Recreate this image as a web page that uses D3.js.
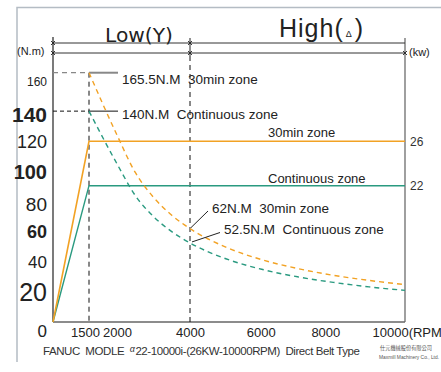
<!DOCTYPE html>
<html>
<head>
<meta charset="utf-8">
<script src="https://cdn.jsdelivr.net/npm/d3@7"></script>
<style>
  body { margin: 0; background: #fff; }
  svg { display: block; font-family: "Liberation Sans", Arial, sans-serif; }
  text { white-space: pre; }
</style>
</head>
<body>
<div id="chart"></div>
<script>
// axis ticks
const rpmTicks = [1500, 2000, 4000, 6000, 8000, 10000];
const torqueTicks = [0, 20, 40, 60, 80, 100, 120, 140, 160];
const powerTicks = [22, 26];

// power output (kW) – solid lines
const powerRpm = [0, 1500, 10000];
const power30 = [0, 26, 26];
const powerCont = [0, 22, 22];

// torque (N.m) – dashed curves
const torqueRpm = [1500, 2000, 2500, 3000, 3500, 4000, 5000, 6000, 7000, 8000, 9000, 10000];
const torque30 = [165.5, 124.1, 99.3, 82.8, 70.9, 62, 49.7, 41.4, 35.5, 31.0, 27.6, 24.8];
const torqueCont = [140, 105, 84, 70, 60, 52.5, 42, 35, 30, 26.3, 23.3, 21];

const W = 441, H = 372;
const pLeft = 53, pRight = 405, pBottom = 322;
const orange = "#f2a224", green = "#2a9a80";

const svg = d3.select("#chart").append("svg")
  .attr("width", W).attr("height", H);

// outer frame
svg.append("path")
  .attr("d", `M17,362 V7.5 H441`)
  .attr("fill", "none").attr("stroke", "#b4bcc4").attr("stroke-width", 1.5);

// the original chart is not drawn to a uniform rpm scale
const x = d3.scaleLinear()
  .domain([0, 1500, 2000, 4000, 10000])
  .range([pLeft, 89, 117, 190, pRight]);
const y = d3.scaleLinear().domain([0, 160]).range([pBottom, 81]);
const kw = d3.scaleLinear().domain([0, 22, 26]).range([pBottom, y(90.5), y(120)]);

// frame lines
svg.append("line").attr("x1", pLeft).attr("x2", pLeft).attr("y1", 37).attr("y2", pBottom)
  .attr("stroke", "#222").attr("stroke-width", 1.2);
svg.append("line").attr("x1", pRight).attr("x2", pRight).attr("y1", 38).attr("y2", pBottom)
  .attr("stroke", "#888").attr("stroke-width", 1.6);
svg.append("line").attr("x1", pLeft).attr("x2", pRight).attr("y1", pBottom).attr("y2", pBottom)
  .attr("stroke", "#666").attr("stroke-width", 1.4);

// header arrows
[43, 53].forEach(hy => {
  svg.append("line").attr("x1", pLeft).attr("x2", pRight).attr("y1", hy).attr("y2", hy)
    .attr("stroke", "#333").attr("stroke-width", 1);
});
const marks = [[0, 43], [0, 53], [4000, 43], [4000, 53], [10000, 53]];
marks.forEach(([r, hy]) => {
  const cx = x(r);
  svg.append("path")
    .attr("d", `M${cx - 2},${hy - 2}L${cx + 2},${hy + 2}M${cx + 2},${hy - 2}L${cx - 2},${hy + 2}`)
    .attr("stroke", "#222").attr("stroke-width", 0.9);
});
svg.append("line").attr("x1", x(4000)).attr("x2", x(4000)).attr("y1", 38).attr("y2", 56)
  .attr("stroke", "#222").attr("stroke-width", 1);

// dashed guides
svg.append("line").attr("x1", x(4000)).attr("x2", x(4000)).attr("y1", 56).attr("y2", pBottom)
  .attr("stroke", "#111").attr("stroke-dasharray", "5,4");
svg.append("line").attr("x1", x(1500)).attr("x2", x(1500)).attr("y1", y(torque30[0])).attr("y2", pBottom)
  .attr("stroke", "#111").attr("stroke-dasharray", "5,4");
svg.append("line").attr("x1", pLeft).attr("x2", x(1500)).attr("y1", y(torque30[0])).attr("y2", y(torque30[0]))
  .attr("stroke", "#888").attr("stroke-dasharray", "5,4").attr("stroke-width", 1.2);
svg.append("line").attr("x1", pLeft).attr("x2", x(1500)).attr("y1", y(torqueCont[0])).attr("y2", y(torqueCont[0]))
  .attr("stroke", "#111").attr("stroke-dasharray", "4,3");
svg.append("line").attr("x1", x(1500)).attr("x2", 118).attr("y1", y(torque30[0])).attr("y2", y(torque30[0]))
  .attr("stroke", "#888").attr("stroke-width", 2);
svg.append("line").attr("x1", x(1500)).attr("x2", 118).attr("y1", y(torqueCont[0])).attr("y2", y(torqueCont[0]))
  .attr("stroke", "#111").attr("stroke-width", 1);

// power lines
const powerLine = vals => d3.line()
  .x((d, i) => x(powerRpm[i])).y(d => kw(d))(vals);
svg.append("path").attr("d", powerLine(powerCont))
  .attr("fill", "none").attr("stroke", green).attr("stroke-width", 1.4);
svg.append("path").attr("d", powerLine(power30))
  .attr("fill", "none").attr("stroke", orange).attr("stroke-width", 1.6);

// torque curves
const torqueLine = vals => d3.line().curve(d3.curveMonotoneX)
  .x((d, i) => x(torqueRpm[i])).y(d => y(d))(vals);
svg.append("path").attr("d", torqueLine(torque30))
  .attr("fill", "none").attr("stroke", orange).attr("stroke-width", 1.4).attr("stroke-dasharray", "5,4");
svg.append("path").attr("d", torqueLine(torqueCont))
  .attr("fill", "none").attr("stroke", green).attr("stroke-width", 1.4).attr("stroke-dasharray", "5,4");

// left axis labels (mixed sizes as in the original print)
const yTickStyle = {
  0: [17, 400, 9], 20: [25, 400, 0], 40: [17, 400, 0], 60: [18, 700, 0], 80: [19, 400, 3],
  100: [20, 700, 0], 120: [18, 400, 0], 140: [21, 700, 3], 160: [12, 400, 0]
};
const gy = svg.append("g").attr("transform", `translate(${pLeft},0)`)
  .call(d3.axisLeft(y).tickValues(torqueTicks).tickSize(0).tickPadding(6));
gy.select(".domain").remove();
gy.selectAll("text")
  .attr("fill", "#222")
  .attr("font-family", "'Liberation Sans', Arial, sans-serif")
  .style("font-size", d => yTickStyle[d][0] + "px")
  .style("font-weight", d => yTickStyle[d][1])
  .attr("dy", d => (0.34 + yTickStyle[d][2] / yTickStyle[d][0]) + "em");

// right axis (kW)
const gk = svg.append("g").attr("transform", `translate(${pRight},0)`)
  .call(d3.axisRight(kw).tickValues(powerTicks).tickSize(0).tickPadding(5));
gk.select(".domain").remove();
gk.selectAll("text").attr("fill", "#333").attr("font-family", "'Liberation Sans', Arial, sans-serif")
  .style("font-size", "12px");

// bottom axis
const xTickDx = { 1500: -4, 2000: 0, 4000: 0, 6000: -1, 8000: -8, 10000: -33 };
const gx = svg.append("g").attr("transform", `translate(0,${pBottom})`)
  .call(d3.axisBottom(x).tickValues(rpmTicks).tickSize(0).tickPadding(6)
    .tickFormat(d => d === 10000 ? "10000(RPM" : d));
gx.select(".domain").remove();
gx.selectAll("text").attr("fill", "#222").attr("font-family", "'Liberation Sans', Arial, sans-serif")
  .style("font-size", "13px")
  .attr("text-anchor", d => d === 10000 ? "start" : "middle")
  .attr("dx", d => xTickDx[d]);

// units & header titles
const txt = (tx, ty, s, size, opts = {}) => svg.append("text")
  .attr("x", tx).attr("y", ty).text(s)
  .attr("font-size", size).attr("fill", opts.fill || "#222")
  .attr("text-anchor", opts.anchor || "start");
txt(17, 55, "(N.m)", 11);
txt(409, 56, "(kw)", 11);
txt(105, 41.5, "Low(Y)", 19).attr("font-family", "'DejaVu Sans', sans-serif")
  .attr("textLength", 68).attr("lengthAdjust", "spacingAndGlyphs");
const high = txt(279, 37, "High(", 25).attr("letter-spacing", 1);
high.append("tspan").text("Δ").attr("font-size", 9).attr("dx", 2);
high.append("tspan").text(")").attr("dx", 2);

// annotations
txt(122, 83.5, "165.5N.M  30min zone", 13.5);
txt(122, 119, "140N.M  Continuous zone", 13.5);
txt(268, 137, "30min zone", 13);
txt(268, 182.5, "Continuous zone", 13);
svg.append("line").attr("x1", x(4000) + 1).attr("y1", y(torque30[5]) - 1).attr("x2", 208).attr("y2", 211)
  .attr("stroke", "#222").attr("stroke-width", 1);
svg.append("line").attr("x1", x(4000) + 2).attr("y1", y(torqueCont[5]) - 1).attr("x2", 220).attr("y2", 232.5)
  .attr("stroke", "#222").attr("stroke-width", 1);
txt(212, 213, "62N.M  30min zone", 13.5);
txt(224, 233.5, "52.5N.M  Continuous zone", 13.5);

// caption
const cap = txt(43, 355, "FANUC  MODLE  ", 11.5).attr("fill", "#333");
cap.append("tspan").text("α").attr("font-style", "italic").attr("font-size", 9).attr("dy", -3);
cap.append("tspan").text("22-10000i-(26KW-10000RPM)  Direct Belt Type").attr("dy", 3).attr("dx", 1);
cap.attr("textLength", 317);

txt(380, 350, "仕元機械股份有限公司", 5.2).attr("fill", "#555")
  .attr("font-family", "'Noto Sans CJK TC', sans-serif");
txt(379, 359, "Maxmill Machinery Co., Ltd.", 5).attr("fill", "#555")
  .attr("textLength", 60).attr("lengthAdjust", "spacingAndGlyphs");
</script>
</body>
</html>
